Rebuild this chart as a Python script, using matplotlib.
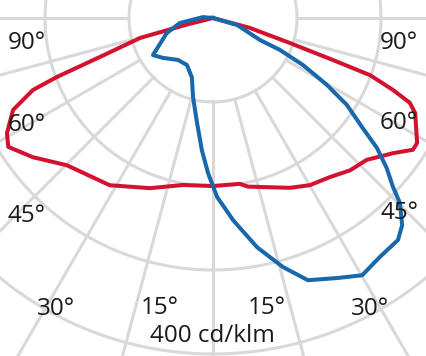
import numpy as np
import matplotlib.pyplot as plt

plt.rcParams['font.family'] = ['Open Sans', 'DejaVu Sans']

# luminous intensity (cd/klm) against angle from nadir (deg, negative = left)
red_deg = [-90, -76.0, -74.7, -71.0, -69.3, -68.2, -65.3, -60.8, -57.8, -52.3,
           -44.8, -38.5, -31.7, -20.3, -10.2, 0, 9.2, 11.7, 24.4, 30.1, 36.3,
           42.0, 47.3, 53.1, 56.6, 58.5, 64.8, 66.7, 68.2, 70.0, 70.7, 72.0,
           75.0, 90]
red_cd = [0, 31, 90, 142, 199, 231, 262, 281, 288, 271,
          247, 239, 234, 216, 202, 200, 200, 205, 222, 230, 235,
          244, 249, 268, 285, 285, 266, 255, 231, 199, 151, 96,
          45, 0]

blue_deg = [-95, -95, -81.4, -71.9, -62.2, -58.3, -51.3, -39.8, -29.0, -19.6,
            -14.2, -8.7, -4.8, -1.8, 1.3, 5.7, 10.9, 15.7, 19.9, 25.5, 30.1,
            34.9, 39.8, 42.4, 45.3, 46.8, 49.2, 51.6, 53.7, 57.0, 59.6, 62.4,
            64.5, 64.9, 73.7, 90]
blue_cd = [0, 12, 40, 58, 74, 84, 76, 65, 64, 75,
           97, 126, 158, 185, 213, 242, 278, 308, 332, 343, 354,
           347, 344, 334, 313, 294, 273, 249, 221, 190, 157, 121,
           88, 62, 30, 0]

rings = [100, 200, 300, 400]
spokes = np.arange(0, 360, 15)
left_labels = ['90°', '60°', '45°', '30°', '15°']
right_labels = ['90°', '60°', '45°', '30°', '15°']
scale_label = '400 cd/klm'

W, H = 427, 356
fig = plt.figure(figsize=(W / 100, H / 100), dpi=100)

# polar axes centred at pixel (213, 18), 400 cd/klm = 336 px
cx, cy = 213, 18
rmax = 480
R = rmax * 0.84
ax = fig.add_axes([(cx - R) / W, (H - cy - R) / H, 2 * R / W, 2 * R / H],
                  projection='polar')
ax.set_theta_zero_location('S')
ax.set_theta_direction(1)
ax.set_ylim(0, rmax)
ax.grid(False)
ax.set_xticks([])
ax.set_yticks([])
ax.spines['polar'].set_visible(False)
ax.patch.set_alpha(0)

grid_c = '#d9d9d9'
th = np.linspace(0, 2 * np.pi, 400)
for r in rings:
    ax.plot(th, np.full_like(th, r), color=grid_c, lw=2.2, zorder=1)
for s in spokes:
    ax.plot([np.radians(s)] * 2, [rings[0], rmax], color=grid_c, lw=2.2, zorder=1)

ax.plot(np.radians(red_deg), red_cd, color='#d2122e', lw=2.9,
        solid_joinstyle='round', zorder=3)
ax.plot(np.radians(blue_deg), blue_cd, color='#1768ac', lw=2.9,
        solid_joinstyle='round', zorder=4)

lpos = [(27, 43), (27, 125), (27, 216), (56, 309), (160, 308)]
rpos = [(399, 43), (399, 123), (400, 213), (370, 309), (267, 308)]
for t, (x, y) in zip(left_labels, lpos):
    fig.text(x / W, 1 - y / H, t, ha='center', va='center', fontsize=17.5,
             color='#1a1a1a', zorder=5)
for t, (x, y) in zip(right_labels, rpos):
    fig.text(x / W, 1 - y / H, t, ha='center', va='center', fontsize=17.5,
             color='#1a1a1a', zorder=5)
fig.text(212 / W, 1 - 336 / H, scale_label, ha='center', va='center',
         fontsize=17.5, color='#1a1a1a')

fig.savefig('out.png', dpi=100)
